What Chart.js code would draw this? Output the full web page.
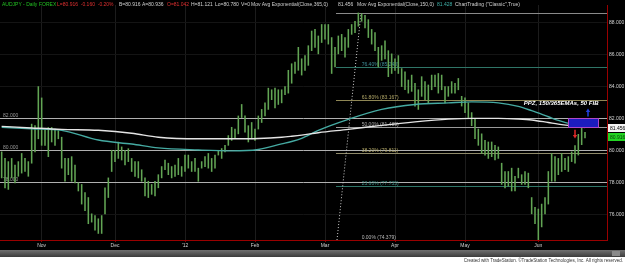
<!DOCTYPE html>
<html>
<head>
<meta charset="utf-8">
<title>AUDJPY - Daily</title>
<script src="https://cdn.jsdelivr.net/npm/chart.js@4.4.1/dist/chart.umd.min.js"></script>
<style>
  html, body { margin: 0; padding: 0; background: #fff; }
  #wrap { width: 625px; height: 263px; }
</style>
</head>
<body>
<div id="wrap"><canvas id="chart" width="625" height="263"></canvas></div>
<script>
// daily bars, Oct 14 2011 .. mid Jun 2012 (high / low)
const barHighs = [
  79.90, 79.49, 79.29, 79.49, 79.08, 79.29, 79.80, 79.49, 79.29, 81.64,
  81.54, 83.99, 83.28, 81.33, 81.43, 81.43, 81.33, 81.23, 80.82, 79.49,
  79.49, 79.60, 79.08, 77.96, 77.86, 77.35, 77.04, 76.02, 75.91, 75.71,
  75.91, 77.65, 78.27, 80.00, 80.00, 80.51, 80.21, 80.00, 80.10, 79.49,
  79.29, 79.29, 78.78, 78.27, 78.06, 77.86, 78.06, 78.47, 78.98, 79.39,
  79.19, 78.98, 79.08, 79.49, 78.98, 79.70, 79.70, 79.29, 79.49, 78.88,
  79.29, 79.60, 79.80, 79.49, 79.70, 80.00, 80.11, 80.31, 80.92, 81.44,
  81.33, 82.15, 82.87, 82.15, 81.54, 81.74, 81.33, 82.15, 82.56, 82.97,
  83.89, 83.79, 83.89, 83.79, 83.79, 83.99, 85.01, 85.42, 85.53, 86.45,
  85.73, 85.93, 86.55, 87.47, 87.57, 87.16, 87.88, 87.88, 87.88, 87.06,
  86.45, 87.16, 87.26, 87.06, 87.57, 87.88, 88.08, 88.60, 88.55, 88.45,
  88.18, 87.57, 87.37, 86.45, 86.55, 86.85, 86.24, 86.04, 85.73, 85.93,
  85.12, 84.91, 84.40, 84.71, 84.20, 83.79, 84.61, 84.30, 84.09, 84.71,
  84.71, 84.81, 84.71, 83.99, 83.99, 84.30, 84.20, 84.50, 83.38, 83.28,
  82.97, 82.36, 81.95, 81.33, 81.03, 80.62, 80.52, 80.52, 80.31, 80.21,
  79.19, 78.67, 78.67, 78.88, 78.37, 78.88, 78.47, 78.67, 78.57, 77.04,
  76.42, 76.32, 76.63, 77.04, 78.67, 79.80, 79.60, 79.49, 79.80, 79.49,
  79.60, 79.90, 80.30, 81.00, 81.55, 81.12
];
const barLows = [
  78.27, 77.65, 77.55, 78.27, 77.96, 78.37, 78.57, 78.67, 78.37, 79.19,
  79.90, 80.72, 80.31, 80.31, 79.60, 80.52, 80.31, 80.72, 78.88, 78.06,
  78.47, 78.06, 77.96, 77.45, 76.63, 76.22, 75.40, 75.50, 74.99, 74.79,
  74.79, 76.02, 77.04, 78.67, 79.29, 79.49, 79.39, 79.08, 79.29, 78.67,
  78.37, 78.27, 78.06, 77.14, 77.04, 77.24, 77.14, 77.65, 78.27, 78.78,
  78.47, 78.27, 78.37, 78.47, 78.37, 78.67, 78.88, 78.67, 78.67, 78.06,
  78.88, 78.98, 78.88, 78.67, 78.88, 79.70, 79.49, 79.90, 80.31, 80.62,
  80.72, 81.03, 82.05, 81.13, 80.52, 80.72, 80.62, 81.33, 81.74, 82.15,
  82.56, 83.17, 82.66, 82.87, 82.97, 83.48, 83.58, 84.20, 84.81, 85.01,
  84.71, 85.01, 85.32, 86.24, 86.45, 86.04, 86.75, 86.96, 86.65, 84.81,
  85.22, 86.04, 86.24, 85.83, 86.45, 87.26, 87.37, 87.77, 88.08, 87.67,
  87.06, 86.65, 86.24, 85.22, 85.63, 85.73, 84.61, 84.81, 85.01, 84.81,
  83.99, 83.79, 83.58, 83.69, 82.76, 82.56, 83.38, 83.17, 82.97, 83.79,
  83.99, 83.58, 83.79, 82.97, 83.38, 83.58, 83.58, 83.79, 82.77, 82.36,
  82.05, 81.54, 80.72, 80.31, 79.80, 79.70, 79.49, 79.60, 79.39, 79.49,
  77.86, 77.65, 77.75, 77.45, 77.45, 78.27, 77.86, 77.86, 77.65, 76.02,
  75.40, 74.38, 75.20, 76.02, 76.63, 78.06, 78.06, 78.47, 78.67, 78.78,
  78.67, 79.29, 79.20, 79.70, 80.35, 80.78
];

const monthLabels = ['Nov', 'Dec', "'12", 'Feb', 'Mar', 'Apr', 'May', 'Jun'];
const monthStartIdx = [12, 34, 55, 76, 97, 118, 139, 161];
const priceTicks = [76, 78, 80, 82, 84, 86, 88];

// exponential moving averages, sampled along the curves
const emaIdx = [0, 9, 18, 29, 39, 47, 59, 69, 77, 84, 87, 90, 95, 104, 114, 124, 134, 141, 149, 155, 159, 164, 167, 175];
const ema365 = [81.50, 81.40, 81.31, 81.25, 81.07, 80.82, 80.72, 80.72, 80.74, 80.82, 80.88, 80.95, 81.10, 81.31, 81.56, 81.78, 81.95, 82.00, 82.00, 81.96, 81.90, 81.74, 81.64, 81.456];
const ema150 = [81.44, 81.35, 81.25, 80.64, 80.39, 80.15, 80.02, 79.96, 80.05, 80.40, 80.55, 80.75, 81.25, 81.94, 82.56, 82.87, 82.97, 83.03, 82.97, 82.75, 82.48, 82.10, 81.87, 81.428];

// drawn objects
const roundLevels = [82, 80, 78];
const fibLabels = ['100.00%', '76.40%', '61.80%', '50.00%', '38.20%', '23.60%', '0.00%'];
const fibPrices = [88.599, 85.243, 83.167, 81.489, 79.811, 77.735, 74.379];
const fibLineColors = ['#8a8a8a', '#2f7567', '#8f8755', '#9a9a9a', '#8f8a6a', '#2f7567', '#9a9a9a'];
const fibTextColors = [null, '#3f8f9a', '#b3a868', '#a8a8a8', '#b3a868', '#3f8f85', '#b8b8b8'];
const fibStartIdx = 100.3;
const fibLabelIdx = 108;
const fibAnchorIdx = [100.6, 107.8];
const ppzIdx = [169.9, 178.9];
const ppzPrices = [81.45, 82.0];

const lastPrice = 80.916;
const ema365Last = 81.456;

const legendParts = [
  ['AUDJPY - Daily', '#22c022', 2],
  ['FOREX', '#22c022', 39],
  ['L=80.916  -0.160  -0.20%', '#e03030', 57],
  ['B=80.916', '#d0d0d0', 119],
  ['A=80.936', '#d0d0d0', 142],
  ['O=81.042', '#e03030', 167],
  ['H=81.121', '#d0d0d0', 191],
  ['Lo=80.780', '#d0d0d0', 215],
  ['V=0', '#d0d0d0', 241],
  ['Mov Avg Exponential(Close,365,0)', '#d0d0d0', 251],
  ['81.456', '#d0d0d0', 338],
  ['Mov Avg Exponential(Close,150,0)', '#d0d0d0', 357],
  ['81.428', '#3fb0a8', 437],
  ['ChartTrading ("Classic",True)', '#d0d0d0', 455]
];

const FONT = "'Liberation Sans', Arial, sans-serif";

function px(v) { return Math.round(v) + 0.5; }

const backgroundPlugin = {
  id: 'tsBackground',
  beforeDraw(chart) {
    const ctx = chart.ctx;
    ctx.save();
    ctx.fillStyle = '#000';
    ctx.fillRect(0, 0, chart.width, 250);
    // scroll bar strip
    const g = ctx.createLinearGradient(0, 250, 0, 257);
    g.addColorStop(0, '#707070');
    g.addColorStop(1, '#3c3c3c');
    ctx.fillStyle = g;
    ctx.fillRect(0, 250, chart.width, 7);
    ctx.fillStyle = '#8a8a8a';
    ctx.fillRect(612, 251, 8, 5);
    ctx.fillStyle = '#fff';
    ctx.fillRect(0, 257, chart.width, 6);
    ctx.fillStyle = '#333';
    ctx.font = '4.5px ' + FONT;
    ctx.textAlign = 'right';
    ctx.textBaseline = 'alphabetic';
    ctx.fillText('Created with TradeStation. \u00A9TradeStation Technologies, Inc. All rights reserved.', 623, 262);
    ctx.restore();
  },
  beforeDatasetsDraw(chart) {
    const ctx = chart.ctx;
    const xs = chart.scales.x;
    const ys = chart.scales.y;
    const area = chart.chartArea;
    ctx.save();
    ctx.beginPath();
    ctx.rect(area.left, area.top, area.right - area.left, area.bottom - area.top);
    ctx.clip();
    ctx.lineWidth = 1;
    ctx.font = '5px ' + FONT;
    ctx.textBaseline = 'alphabetic';

    // round number lines across the whole chart
    roundLevels.forEach(function(level) {
      const y = px(ys.getPixelForValue(level));
      ctx.strokeStyle = '#b0b0b0';
      ctx.beginPath();
      ctx.moveTo(area.left, y);
      ctx.lineTo(area.right, y);
      ctx.stroke();
      ctx.fillStyle = '#9a9a9a';
      ctx.fillText(level.toFixed(3), area.left + 3, y - 2);
    });

    // fibonacci retracement
    const x0 = xs.getPixelForValue(fibStartIdx);
    const xl = xs.getPixelForValue(fibLabelIdx);
    fibPrices.forEach(function(p, i) {
      const y = px(ys.getPixelForValue(p));
      ctx.strokeStyle = fibLineColors[i];
      ctx.beginPath();
      ctx.moveTo(x0, y);
      ctx.lineTo(area.right, y);
      ctx.stroke();
      if (fibTextColors[i]) {
        ctx.fillStyle = fibTextColors[i];
        ctx.fillText(fibLabels[i] + ' (' + p.toFixed(3) + ')', xl, y - 2);
      }
    });

    ctx.strokeStyle = '#d0d0d0';
    ctx.setLineDash([1, 2]);
    ctx.beginPath();
    ctx.moveTo(xs.getPixelForValue(fibAnchorIdx[0]), ys.getPixelForValue(fibPrices[6]));
    ctx.lineTo(xs.getPixelForValue(fibAnchorIdx[1]), ys.getPixelForValue(fibPrices[0]));
    ctx.stroke();
    ctx.restore();
  },
  afterDatasetsDraw(chart) {
    const ctx = chart.ctx;
    const xs = chart.scales.x;
    const ys = chart.scales.y;
    ctx.save();

    // price projection zone box
    const bx0 = Math.round(xs.getPixelForValue(ppzIdx[0])) + 0.5;
    const bx1 = Math.round(xs.getPixelForValue(ppzIdx[1])) + 0.5;
    const by0 = Math.round(ys.getPixelForValue(ppzPrices[1])) + 0.5;
    const by1 = Math.round(ys.getPixelForValue(ppzPrices[0])) + 0.5;
    ctx.fillStyle = '#1c1cc0';
    ctx.fillRect(bx0, by0, bx1 - bx0, by1 - by0);
    ctx.strokeStyle = '#b048c8';
    ctx.lineWidth = 1;
    ctx.strokeRect(bx0, by0, bx1 - bx0, by1 - by0);

    drawArrow(ctx, xs.getPixelForValue(175.9), ys.getPixelForValue(82.11), ys.getPixelForValue(82.62), '#2040e0');
    drawArrow(ctx, xs.getPixelForValue(172.0), ys.getPixelForValue(81.28), ys.getPixelForValue(80.74), '#e02828');

    ctx.fillStyle = '#fff';
    ctx.font = 'italic bold 6px ' + FONT;
    ctx.textAlign = 'right';
    ctx.fillText('PPZ, 150/365EMAs, 50 FIB', bx1, ys.getPixelForValue(82.82));
    ctx.restore();
  },
  afterDraw(chart) {
    const ctx = chart.ctx;
    const ys = chart.scales.y;
    const area = chart.chartArea;
    ctx.save();
    ctx.font = '5px ' + FONT;
    ctx.textBaseline = 'middle';
    ctx.textAlign = 'left';
    legendParts.forEach(function(part) {
      ctx.fillStyle = part[1];
      ctx.fillText(part[0], part[2], 5);
    });

    // last value markers on the price axis
    const yEma = Math.round(ys.getPixelForValue(ema365Last)) + 1;
    ctx.fillStyle = '#f4f4f4';
    ctx.fillRect(area.right + 1, yEma - 4, 17, 8);
    ctx.fillStyle = '#000';
    ctx.fillText(ema365Last.toFixed(3), area.right + 3, yEma + 0.5);

    const yLast = Math.round(ys.getPixelForValue(lastPrice)) + 1;
    ctx.fillStyle = '#22d422';
    ctx.fillRect(area.right + 1, yLast - 4, 17, 8);
    ctx.fillStyle = '#0a3a0a';
    ctx.fillText(lastPrice.toFixed(3), area.right + 3, yLast + 0.5);
    ctx.restore();
  }
};

function drawArrow(ctx, x, yTail, yHead, color) {
  const dir = yHead < yTail ? -1 : 1;
  ctx.strokeStyle = color;
  ctx.fillStyle = color;
  ctx.lineWidth = 1.5;
  ctx.beginPath();
  ctx.moveTo(x, yTail);
  ctx.lineTo(x, yHead - dir * 3);
  ctx.stroke();
  ctx.beginPath();
  ctx.moveTo(x, yHead);
  ctx.lineTo(x - 2.2, yHead - dir * 3.5);
  ctx.lineTo(x + 2.2, yHead - dir * 3.5);
  ctx.closePath();
  ctx.fill();
}

const barData = barHighs.map(function(h, i) {
  return { x: i, y: [barLows[i], h] };
});

new Chart(document.getElementById('chart'), {
  type: 'bar',
  data: {
    datasets: [
      {
        type: 'line',
        label: 'EMA 365',
        data: emaIdx.map(function(x, j) { return { x: x, y: ema365[j] }; }),
        borderColor: '#e4e4e4',
        borderWidth: 1.4,
        pointRadius: 0,
        cubicInterpolationMode: 'monotone',
        order: 0
      },
      {
        type: 'line',
        label: 'EMA 150',
        data: emaIdx.map(function(x, j) { return { x: x, y: ema150[j] }; }),
        borderColor: '#45aaa2',
        borderWidth: 1.4,
        pointRadius: 0,
        cubicInterpolationMode: 'monotone',
        order: 0
      },
      {
        type: 'bar',
        label: 'AUDJPY',
        data: barData,
        backgroundColor: '#62a554',
        borderWidth: 0,
        barThickness: 0.9,
        order: 1
      }
    ]
  },
  options: {
    responsive: false,
    animation: false,
    devicePixelRatio: 1,
    layout: { padding: { top: 0, right: 0, bottom: 13, left: 0 } },
    plugins: {
      legend: { display: false },
      tooltip: { enabled: false }
    },
    scales: {
      x: {
        type: 'linear',
        min: -0.5,
        max: 181.6,
        offset: false,
        grid: { color: '#1c1c1c', offset: false, drawTicks: true, tickLength: 2, tickColor: '#8a0000' },
        border: { color: '#9a0000' },
        afterBuildTicks: function(scale) {
          scale.ticks = monthStartIdx.map(function(v) { return { value: v }; });
        },
        afterFit: function(scale) { scale.height = 10; },
        ticks: {
          autoSkip: false,
          maxRotation: 0,
          padding: 1,
          color: '#cfcfcf',
          font: { family: FONT, size: 5 },
          callback: function(value, index) { return monthLabels[index]; }
        }
      },
      y: {
        type: 'linear',
        position: 'right',
        min: 74.38,
        max: 89.10,
        grid: { color: '#141414', drawTicks: false },
        border: { color: '#9a0000' },
        afterBuildTicks: function(scale) {
          scale.ticks = priceTicks.map(function(v) { return { value: v }; });
        },
        afterFit: function(scale) { scale.width = 18; },
        ticks: {
          autoSkip: false,
          padding: 2,
          color: '#d4d4d4',
          font: { family: FONT, size: 5 },
          callback: function(value) { return Number(value).toFixed(3); }
        }
      }
    }
  },
  plugins: [backgroundPlugin]
});
</script>
</body>
</html>
